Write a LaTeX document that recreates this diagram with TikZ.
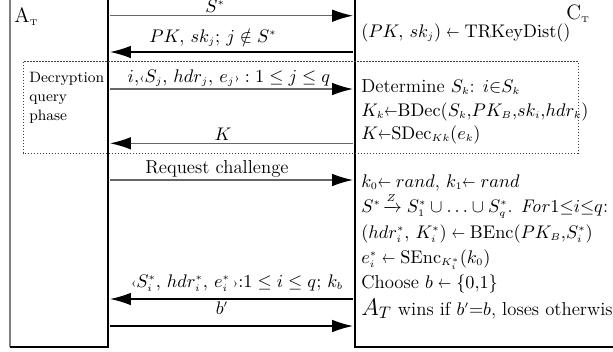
\documentclass[tikz,border=0pt]{standalone}
\usepackage{amsmath,amssymb,graphicx}
\usetikzlibrary{arrows.meta}
% tiny sub- and superscripts in the message texts
\DeclareMathSizes{11.25}{11.25}{6.5}{5}
\DeclareMathSizes{12.5}{12.5}{7}{5.5}
\newcommand{\sgets}{\mathrel{\scalebox{0.72}[1]{$\leftarrow$}}}
\newcommand{\tgets}{\mathord{\scalebox{0.72}[1]{$\leftarrow$}}}
\newcommand{\lang}{\text{\fontsize{8}{8}\selectfont‹}}
\newcommand{\rang}{\text{\fontsize{8}{8}\selectfont›}}
\begin{document}
\begin{tikzpicture}[x=0.6pt,y=-0.6pt,
  txt/.style={font=\fontsize{11.25}{13}\selectfont,inner sep=0pt,anchor=base west},
  lbl/.style={font=\fontsize{11.25}{13}\selectfont,inner sep=0pt,anchor=base},
  big/.style={font=\fontsize{12.5}{14}\selectfont,inner sep=0pt,anchor=base west},
  small/.style={font=\fontsize{9}{11}\selectfont,inner sep=0pt,anchor=base west},
  msg/.style={line width=0.8pt,-{Latex[length=12.5pt,width=7.5pt,color=black]}},
  graymsg/.style={msg,draw=black!60},
  life/.style={line width=0.8pt},
  phasebox/.style={draw=black!75,line width=0.6pt,dash pattern=on 0.9pt off 0.9pt}]
\useasboundingbox (0,0) rectangle (613,351);
\fill[white] (0,0) rectangle (613,351);

% participant boxes (open at the top and to the right)
\draw[life,draw=black!50] (10,-5) -- (10,347);
\draw[life] (10,347) -- (108,347) -- (108,-5);
\draw[life] (355,-5) -- (355,347) -- (620,347);

% decryption query phase frame
\draw[phasebox] (23,61.7) rectangle (578,153);

% participant names
\node[big] (nA) at (14,22) {A$_{\scriptscriptstyle\mathrm{T}}$};
\node[big] (nC) at (566,19) {C$_{\scriptscriptstyle\mathrm{T}}$};
\node[small] (ph1) at (29,82) {Decryption};
\node[small] (ph2) at (29,101) {query};
\node[small] (ph3) at (29,120) {phase};

% message end points on the two lifelines
\coordinate (a1) at (110,15.7);  \coordinate (c1) at (353,15.7);
\coordinate (a2) at (110,52);    \coordinate (c2) at (353,52);
\coordinate (a3) at (110,89);    \coordinate (c3) at (353,89);
\coordinate (a4) at (110,143.3); \coordinate (c4) at (353,143.3);
\coordinate (a5) at (110,180);   \coordinate (c5) at (353,180);
\coordinate (a6) at (110,299);   \coordinate (c6) at (353,299);
\coordinate (a7) at (110,326);   \coordinate (c7) at (353,326);

% messages
\draw[graymsg] (a1) -- (c1);
\draw[msg] (c2) -- (a2);
\draw[graymsg] (a3) -- (c3);
\draw[graymsg] (c4) -- (a4);
\draw[graymsg] (a5) -- (c5);
\draw[msg] (c6) -- (a6);
\draw[msg] (a7) -- (c7);

% message labels
\node[lbl] (m1) at (215,12) {$S^*$};
\node[lbl] (m2) at (213,42) {$PK,\, sk_j;\, j \notin S^*$};
\node[lbl] (m3) at (229,82) {$i{,}\lang S_j,\, hdr_j,\, e_j\rang : 1 \le j \le q$};
\node[lbl] (m4) at (223,140) {$K$};
\node[lbl] (m5) at (217,173) {Request challenge};
\node[lbl] (m6) at (237,287) {$\lang S_i^*,\, hdr_i^*,\, e_i^*\,\rang{:}1 \le i \le q;\, k_b$};
\node[lbl] (m7) at (222,314) {$b'$};

% challenger computations
\node[txt] (t1) at (361,37) {$(PK,\, sk_j) \sgets \mathrm{TRKeyDist}()$};
\node[txt] (t2) at (361,92) {Determine $S_k$: $i{\in}S_k$};
\node[txt] (t3) at (361,116) {$K_k\tgets\mathrm{BDec}(S_k{,}PK_B{,}sk_i{,}hdr_k)$};
\node[txt] (t4) at (361,139) {$K\tgets\mathrm{SDec}_{Kk}(e_k)$};
\node[txt] (t5) at (361,187) {$k_0 \tgets\; rand$, $k_1 \tgets\; rand$};
\node[txt] (t6) at (361,212) {$S^*\!\xrightarrow{Z} S_1^* \cup \ldots \cup S_q^*$. $\mathit{For}1{\le}i{\le}q$:};
\node[txt] (t7) at (361,238) {$(hdr_i^*,\, K_i^*) \sgets \mathrm{BEnc}(PK_B{,}S_i^*)$};
\node[txt] (t8) at (361,263) {$e_i^* \sgets \mathrm{SEnc}_{K_i^*}(k_0)$};
\node[txt] (t9) at (361,288) {Choose $b \sgets \{0{,}1\}$};
\node[txt] (t10) at (361,315) {{\Large $A_T$} wins if $b'{=}b$, loses otherwise};
\end{tikzpicture}
\end{document}
